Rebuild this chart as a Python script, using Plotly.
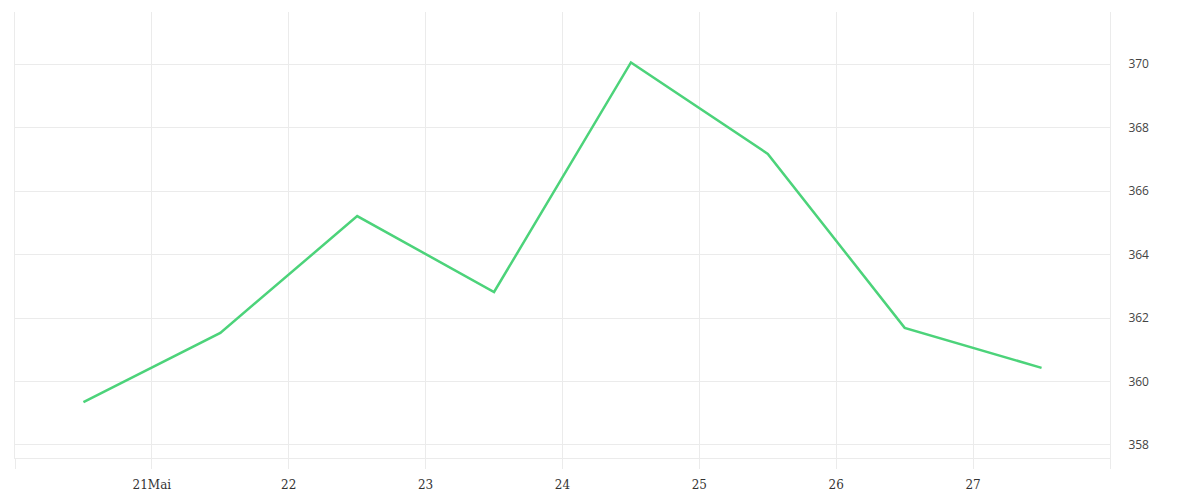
import pandas as pd
import plotly.graph_objects as go

# Daily values, sampled at midday
dates = pd.to_datetime([
    '2024-05-20 12:00', '2024-05-21 12:00', '2024-05-22 12:00', '2024-05-23 12:00',
    '2024-05-24 12:00', '2024-05-25 12:00', '2024-05-26 12:00', '2024-05-27 12:00',
])
values = [359.35, 361.53, 365.21, 362.82, 370.05, 367.17, 361.69, 360.43]

# x ticks at midnight, first and last only mark the frame
tick_dates = pd.date_range('2024-05-20', '2024-05-28', freq='D')
tick_labels = ['', '21Mai', '22', '23', '24', '25', '26', '27', '']

y_ticks = [358, 360, 362, 364, 366, 368, 370]

grid = '#ebebeb'

fig = go.Figure(go.Scatter(
    x=dates,
    y=values,
    mode='lines',
    line=dict(color='#4cd37a', width=2.5),
    hoverinfo='x+y',
))

fig.update_layout(
    width=1200,
    height=500,
    margin=dict(l=7, r=98, t=4, b=50),
    paper_bgcolor='white',
    plot_bgcolor='white',
    showlegend=False,
)

fig.update_xaxes(
    range=[tick_dates[0], tick_dates[-1]],
    tickvals=tick_dates,
    ticktext=tick_labels,
    showgrid=True,
    gridcolor=grid,
    gridwidth=1,
    ticks='outside',
    ticklen=10,
    tickcolor=grid,
    tickwidth=1,
    showline=True,
    linecolor=grid,
    linewidth=1,
    zeroline=False,
    ticklabelstandoff=6,
    tickfont=dict(family='DejaVu Serif', size=12, color='#333333'),
)

fig.update_yaxes(
    side='right',
    range=[357.59, 371.64],
    tickvals=y_ticks,
    showgrid=True,
    gridcolor=grid,
    gridwidth=1,
    zeroline=False,
    showline=True,
    mirror=True,
    linecolor=grid,
    linewidth=1,
    ticks='',
    ticklabelstandoff=15,
    tickfont=dict(family='Open Sans', size=12, color='#444444'),
)

fig.write_html('out.html')
